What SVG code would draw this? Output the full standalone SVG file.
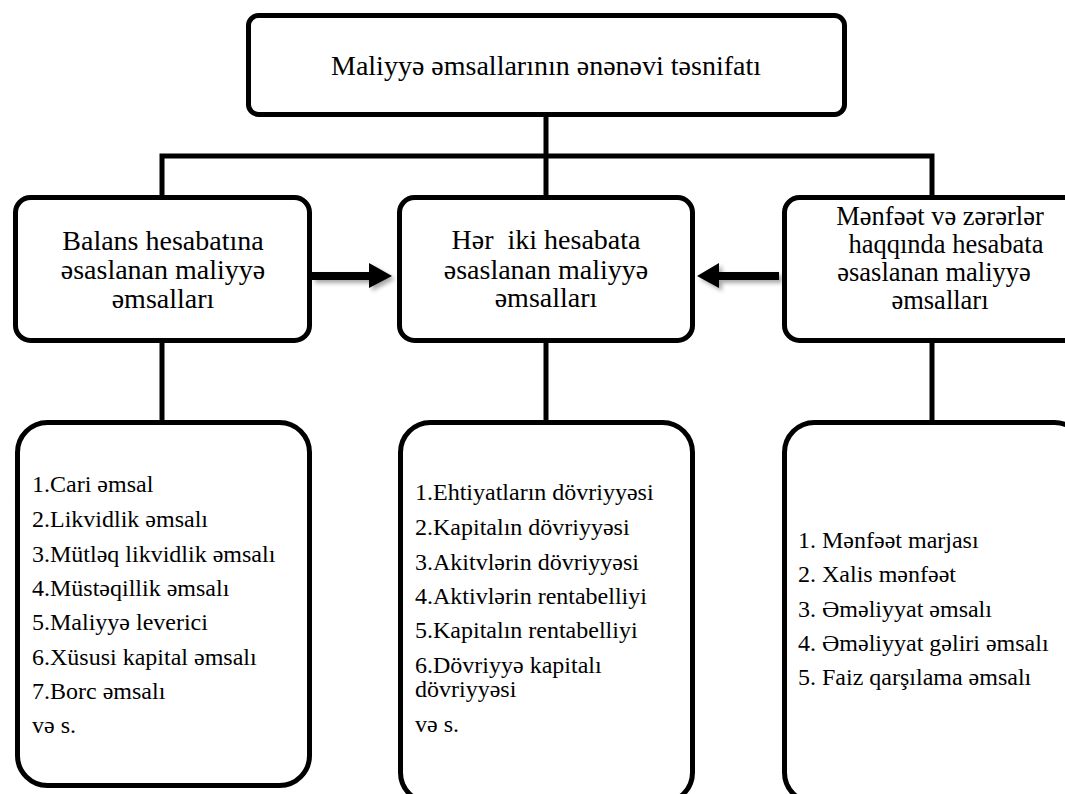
<svg xmlns="http://www.w3.org/2000/svg" width="1065" height="794" viewBox="0 0 1065 794">
<style>
.box{fill:#fff;stroke:#000;stroke-width:5}
.conn{fill:none;stroke:#000;stroke-width:5}
</style>
<defs>
<filter id="sh" x="-20%" y="-50%" width="150%" height="250%">
<feDropShadow dx="3" dy="3" stdDeviation="2" flood-color="#000" flood-opacity="0.35"/>
</filter>
</defs>
<rect width="1065" height="794" fill="#fff"/>
<g id="connectors">
<path class="conn" d="M546,117 V197"/>
<path class="conn" d="M162,197 V156 H932 V197"/>
<path class="conn" d="M162,343 V422"/>
<path class="conn" d="M546,343 V422"/>
<path class="conn" d="M932,343 V422"/>
<g filter="url(#sh)">
<path d="M312,272 H369 V263 L392,276 L369,288 V280 H312 Z" fill="#000"/>
<path d="M779,272 H719 V263 L697,276 L719,288 V280 H779 Z" fill="#000"/>
</g>
</g>
<g font-family="Liberation Serif, Times New Roman, serif" fill="#000">
<g id="title" font-size="28" text-anchor="middle">
<rect class="box" x="248.5" y="15.5" width="596" height="99" rx="10"/>
<text x="546" y="75">Maliyyə əmsallarının ənənəvi təsnifatı</text>
</g>
<g id="balance" font-size="28" text-anchor="middle">
<rect class="box" x="15.5" y="197.5" width="294" height="143" rx="15"/>
<text x="163" y="250">Balans hesabatına</text>
<text x="163" y="279">əsaslanan maliyyə</text>
<text x="163" y="308">əmsalları</text>
</g>
<g id="both" font-size="28" text-anchor="middle">
<rect class="box" x="399.5" y="197.5" width="293" height="143" rx="15"/>
<text x="546" y="249" xml:space="preserve">Hər  iki hesabata</text>
<text x="546" y="279">əsaslanan maliyyə</text>
<text x="546" y="307">əmsalları</text>
</g>
<g id="income" font-size="26.5" text-anchor="middle">
<rect class="box" x="784.5" y="197.5" width="300" height="143" rx="15"/>
<text x="940" y="225">Mənfəət və zərərlər</text>
<text x="946" y="253">haqqında hesabata</text>
<text x="934" y="281">əsaslanan maliyyə</text>
<text x="940" y="309">əmsalları</text>
</g>
<g id="balance-list" font-size="24">
<rect class="box" x="17.5" y="422.5" width="292" height="363" rx="30"/>
<text x="32" y="492">1.Cari əmsal</text>
<text x="32" y="527">2.Likvidlik əmsalı</text>
<text x="32" y="562">3.Mütləq likvidlik əmsalı</text>
<text x="32" y="596">4.Müstəqillik əmsalı</text>
<text x="32" y="630">5.Maliyyə leverici</text>
<text x="32" y="665">6.Xüsusi kapital əmsalı</text>
<text x="32" y="699">7.Borc əmsalı</text>
<text x="32" y="733">və s.</text>
</g>
<g id="both-list" font-size="24">
<rect class="box" x="400.5" y="422.5" width="292" height="380" rx="30"/>
<text x="415" y="500">1.Ehtiyatların dövriyyəsi</text>
<text x="415" y="535">2.Kapitalın dövriyyəsi</text>
<text x="415" y="570">3.Akitvlərin dövriyyəsi</text>
<text x="415" y="604">4.Aktivlərin rentabelliyi</text>
<text x="415" y="638">5.Kapitalın rentabelliyi</text>
<text x="415" y="673">6.Dövriyyə kapitalı</text>
<text x="415" y="697">dövriyyəsi</text>
<text x="415" y="732">və s.</text>
</g>
<g id="income-list" font-size="24">
<rect class="box" x="784.5" y="422.5" width="300" height="380" rx="30"/>
<text x="798" y="548">1. Mənfəət marjası</text>
<text x="798" y="582">2. Xalis mənfəət</text>
<text x="798" y="617">3. Əməliyyat əmsalı</text>
<text x="798" y="651">4. Əməliyyat gəliri əmsalı</text>
<text x="798" y="685">5. Faiz qarşılama əmsalı</text>
</g>
</g>
</svg>
